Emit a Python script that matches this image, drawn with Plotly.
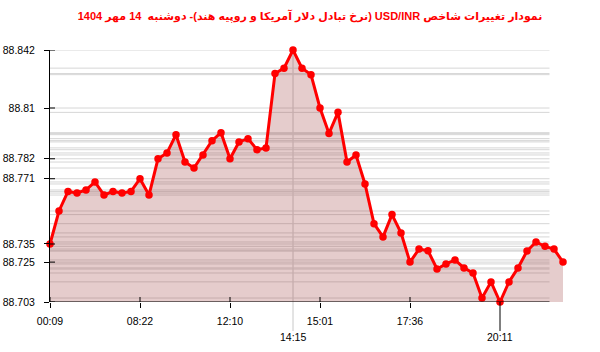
import plotly.graph_objects as go

# ---- data ----
values = [
    88.735, 88.7532, 88.764, 88.7631, 88.7648, 88.7692, 88.762, 88.764, 88.7631, 88.764,
    88.771, 88.762, 88.782, 88.7852, 88.7953, 88.7802, 88.7769, 88.7841, 88.792, 88.7964,
    88.782, 88.7913, 88.7931, 88.787, 88.788, 88.829, 88.832, 88.842, 88.832, 88.8284,
    88.81, 88.796, 88.8076, 88.7802, 88.7841, 88.7681, 88.7462, 88.7389, 88.7512, 88.7411,
    88.725, 88.7322, 88.7313, 88.7212, 88.724, 88.7262, 88.7218, 88.719, 88.7052, 88.7141,
    88.703, 88.7141, 88.7218, 88.7311, 88.7361, 88.7337, 88.7322, 88.725,
]
x_index = list(range(len(values)))

x_tick_positions = [0, 10, 20, 30, 40]
x_tick_labels = ["00:09", "08:22", "12:10", "15:01", "17:36"]

max_index = 27
max_label = "14:15"
min_index = 50
min_label = "20:11"

y_tick_values = [88.703, 88.725, 88.735, 88.771, 88.782, 88.81, 88.842]
y_tick_labels = ["88.703", "88.725", "88.735", "88.771", "88.782", "88.81", "88.842"]

title_text = "\u202bنمودار تغییرات شاخص USD/INR (نرخ تبادل دلار آمریکا و روپیه هند)- دوشنبه  14 مهر 1404\u202c"

# ---- layout constants ----
W, H = 600, 352
ML, MR, MT, MB = 50, 30, 50, 50
PW = W - ML - MR
PH = H - MT - MB
STEP = 9.0
y_min, y_max = 88.703, 88.842
grid_end = 55.5
LABEL_FONT = dict(family="Liberation Sans", size=10.5, color="#000000")

fig = go.Figure()

fig.add_trace(go.Scatter(
    x=x_index, y=values,
    mode="lines+markers",
    line=dict(color="#ff0000", width=3),
    marker=dict(color="#ff0000", size=7.5),
    fill="tozeroy",
    fillcolor="rgba(153,51,51,0.25)",
    cliponaxis=False,
    hoverinfo="skip",
))

shapes = []
# horizontal gridlines at each data value
for v in sorted(set(values)):
    shapes.append(dict(type="line", xref="x", yref="y", x0=0, x1=grid_end, y0=v, y1=v,
                       line=dict(color="#d6d6d6", width=1), layer="below"))
# x-axis line
shapes.append(dict(type="line", xref="x", yref="y", x0=0, x1=grid_end, y0=y_min, y1=y_min,
                   line=dict(color="#000000", width=1), layer="above"))
# inside parts of y ticks
for v in y_tick_values:
    shapes.append(dict(type="line", xref="paper", yref="y", x0=0, x1=5 / PW, y0=v, y1=v,
                       line=dict(color="#000000", width=1), layer="above"))
# inside parts of x ticks
for t in x_tick_positions:
    shapes.append(dict(type="line", xref="x", yref="paper", x0=t, x1=t, y0=0, y1=5 / PH,
                       line=dict(color="#000000", width=1), layer="above"))
# max marker line
shapes.append(dict(type="line", xref="x", yref="paper", x0=max_index, x1=max_index,
                   y0=-29 / PH, y1=1, line=dict(color="#c8c8c8", width=1), layer="below"))
# min marker line
shapes.append(dict(type="line", xref="x", yref="paper", x0=min_index, x1=min_index,
                   y0=-29 / PH, y1=0, line=dict(color="#000000", width=1), layer="above"))

annotations = [
    dict(x=max_index, y=-35 / PH, xref="x", yref="paper", text=max_label, showarrow=False,
         xanchor="center", yanchor="middle", font=LABEL_FONT),
    dict(x=min_index, y=-35 / PH, xref="x", yref="paper", text=min_label, showarrow=False,
         xanchor="center", yanchor="middle", font=LABEL_FONT),
]

fig.update_layout(
    width=W, height=H,
    margin=dict(l=ML, r=MR, t=MT, b=MB, pad=0, autoexpand=False),
    paper_bgcolor="#ffffff",
    plot_bgcolor="#ffffff",
    showlegend=False,
    hovermode=False,
    title=dict(text=title_text, x=310 / W, xanchor="center", y=1 - 16 / H, yanchor="middle",
               font=dict(family="Liberation Sans, DejaVu Sans", size=11, color="#ff0000",
                         weight="bold")),
    shapes=shapes,
    annotations=annotations,
    xaxis=dict(
        range=[0, PW / STEP],
        automargin=False,
        showgrid=False, zeroline=False, showline=False,
        tickmode="array", tickvals=x_tick_positions, ticktext=x_tick_labels,
        ticks="outside", ticklen=5, tickcolor="#000000", tickwidth=1,
        ticklabelstandoff=4,
        tickfont=LABEL_FONT,
    ),
    yaxis=dict(
        range=[y_min, y_max],
        automargin=False,
        showgrid=False, zeroline=False,
        showline=True, linecolor="#000000", linewidth=1,
        tickmode="array", tickvals=y_tick_values, ticktext=y_tick_labels,
        ticks="outside", ticklen=5, tickcolor="#000000", tickwidth=1,
        ticklabelstandoff=7,
        tickfont=LABEL_FONT,
    ),
)

fig.write_html("out.html", config={"displayModeBar": False})
